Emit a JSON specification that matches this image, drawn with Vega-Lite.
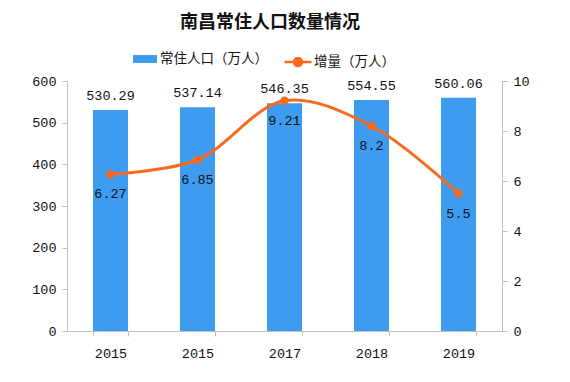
{
  "$schema": "https://vega.github.io/schema/vega-lite/v6.json",
  "width": 435,
  "height": 250,
  "autosize": {"type": "none"},
  "padding": {"left": 67, "top": 81, "right": 68, "bottom": 51},
  "background": "white",
  "config": {
    "view": {"stroke": null},
    "font": "Liberation Mono"
  },
  "title": {
    "text": "南昌常住人口数量情况",
    "font": "Noto Sans CJK SC",
    "fontSize": 18,
    "fontWeight": "bold",
    "color": "#111111",
    "anchor": "start",
    "frame": "group",
    "dx": 113,
    "offset": 15
  },
  "data": {
    "values": [
      {"year": "2015", "pop": 530.29, "inc": 6.27, "s1": "常住人口（万人）", "s2": "增量（万人）"},
      {"year": "2015 ", "pop": 537.14, "inc": 6.85, "s1": "常住人口（万人）", "s2": "增量（万人）"},
      {"year": "2017", "pop": 546.35, "inc": 9.21, "s1": "常住人口（万人）", "s2": "增量（万人）"},
      {"year": "2018", "pop": 554.55, "inc": 8.2, "s1": "常住人口（万人）", "s2": "增量（万人）"},
      {"year": "2019", "pop": 560.06, "inc": 5.5, "s1": "常住人口（万人）", "s2": "增量（万人）"}
    ]
  },
  "encoding": {
    "x": {
      "field": "year",
      "type": "nominal",
      "sort": null,
      "scale": {"paddingInner": 0.6, "paddingOuter": 0.3},
      "axis": {
        "title": null,
        "labelAngle": 0,
        "labelFont": "Liberation Mono",
        "labelFontSize": 13.5,
        "labelColor": "#111111",
        "labelPadding": 10,
        "domainColor": "#bfbfbf",
        "tickColor": "#bfbfbf",
        "tickSize": 5,
        "tickBand": "extent"
      }
    }
  },
  "layer": [
    {
      "mark": {"type": "bar", "width": 35},
      "encoding": {
        "y": {
          "field": "pop",
          "type": "quantitative",
          "scale": {"domain": [0, 600]},
          "axis": {
            "title": null,
            "values": [0, 100, 200, 300, 400, 500, 600],
            "grid": false,
            "labelFont": "Liberation Mono",
            "labelFontSize": 13.5,
            "labelColor": "#111111",
            "labelPadding": 6,
            "domainColor": "#bfbfbf",
            "tickColor": "#bfbfbf",
            "tickSize": 5
          }
        },
        "color": {
          "field": "s1",
          "type": "nominal",
          "scale": {"range": ["#3d9cf0"]},
          "legend": {
            "title": null,
            "orient": "none",
            "legendX": 66,
            "legendY": -34,
            "padding": 0,
            "symbolType": "M-1,-0.33L1,-0.33L1,0.33L-1,0.33Z",
            "symbolSize": 576,
            "symbolStrokeWidth": 0,
            "labelFont": "Noto Sans CJK SC",
            "labelFontSize": 13.5,
            "labelColor": "#111111",
            "labelOffset": 3
          }
        }
      }
    },
    {
      "mark": {"type": "text", "dy": -14, "font": "Liberation Mono", "fontSize": 13.5, "color": "#111111"},
      "encoding": {
        "y": {"field": "pop", "type": "quantitative", "scale": {"domain": [0, 600]}, "axis": null},
        "text": {"field": "pop", "type": "quantitative", "format": ".2f"}
      }
    },
    {
      "layer": [
        {
          "mark": {"type": "line", "interpolate": "catmull-rom", "strokeWidth": 3, "point": {"filled": true, "size": 70, "color": "#fa6a1e"}},
          "encoding": {
            "y": {
              "field": "inc",
              "type": "quantitative",
              "scale": {"domain": [0, 10]},
              "axis": {
                "title": null,
                "orient": "right",
                "values": [0, 2, 4, 6, 8, 10],
                "grid": false,
                "labelFont": "Liberation Mono",
                "labelFontSize": 13.5,
                "labelColor": "#111111",
                "labelPadding": 6,
                "domainColor": "#bfbfbf",
                "tickColor": "#bfbfbf",
                "tickSize": 5
              }
            },
            "color": {
              "field": "s2",
              "type": "nominal",
              "scale": {"range": ["#fa6a1e"]},
              "legend": {
                "title": null,
                "orient": "none",
                "legendX": 216,
                "legendY": -34,
                "padding": 0,
                "symbolType": "M-1,0L1,0M-0.3,0A0.3,0.3,0,1,1,0.3,0A0.3,0.3,0,1,1,-0.3,0Z",
                "symbolSize": 729,
                "symbolStrokeWidth": 2.5,
                "symbolFillColor": "#fa6a1e",
                "symbolStrokeColor": "#fa6a1e",
                "labelFont": "Noto Sans CJK SC",
                "labelFontSize": 13.5,
                "labelColor": "#111111",
                "labelOffset": 1
              }
            }
          }
        },
        {
          "mark": {"type": "text", "dy": 20, "font": "Liberation Mono", "fontSize": 13.5, "color": "#111111"},
          "encoding": {
            "y": {"field": "inc", "type": "quantitative", "scale": {"domain": [0, 10]}},
            "text": {"field": "inc", "type": "quantitative"}
          }
        }
      ]
    }
  ],
  "resolve": {"scale": {"y": "independent", "color": "independent"}}
}
